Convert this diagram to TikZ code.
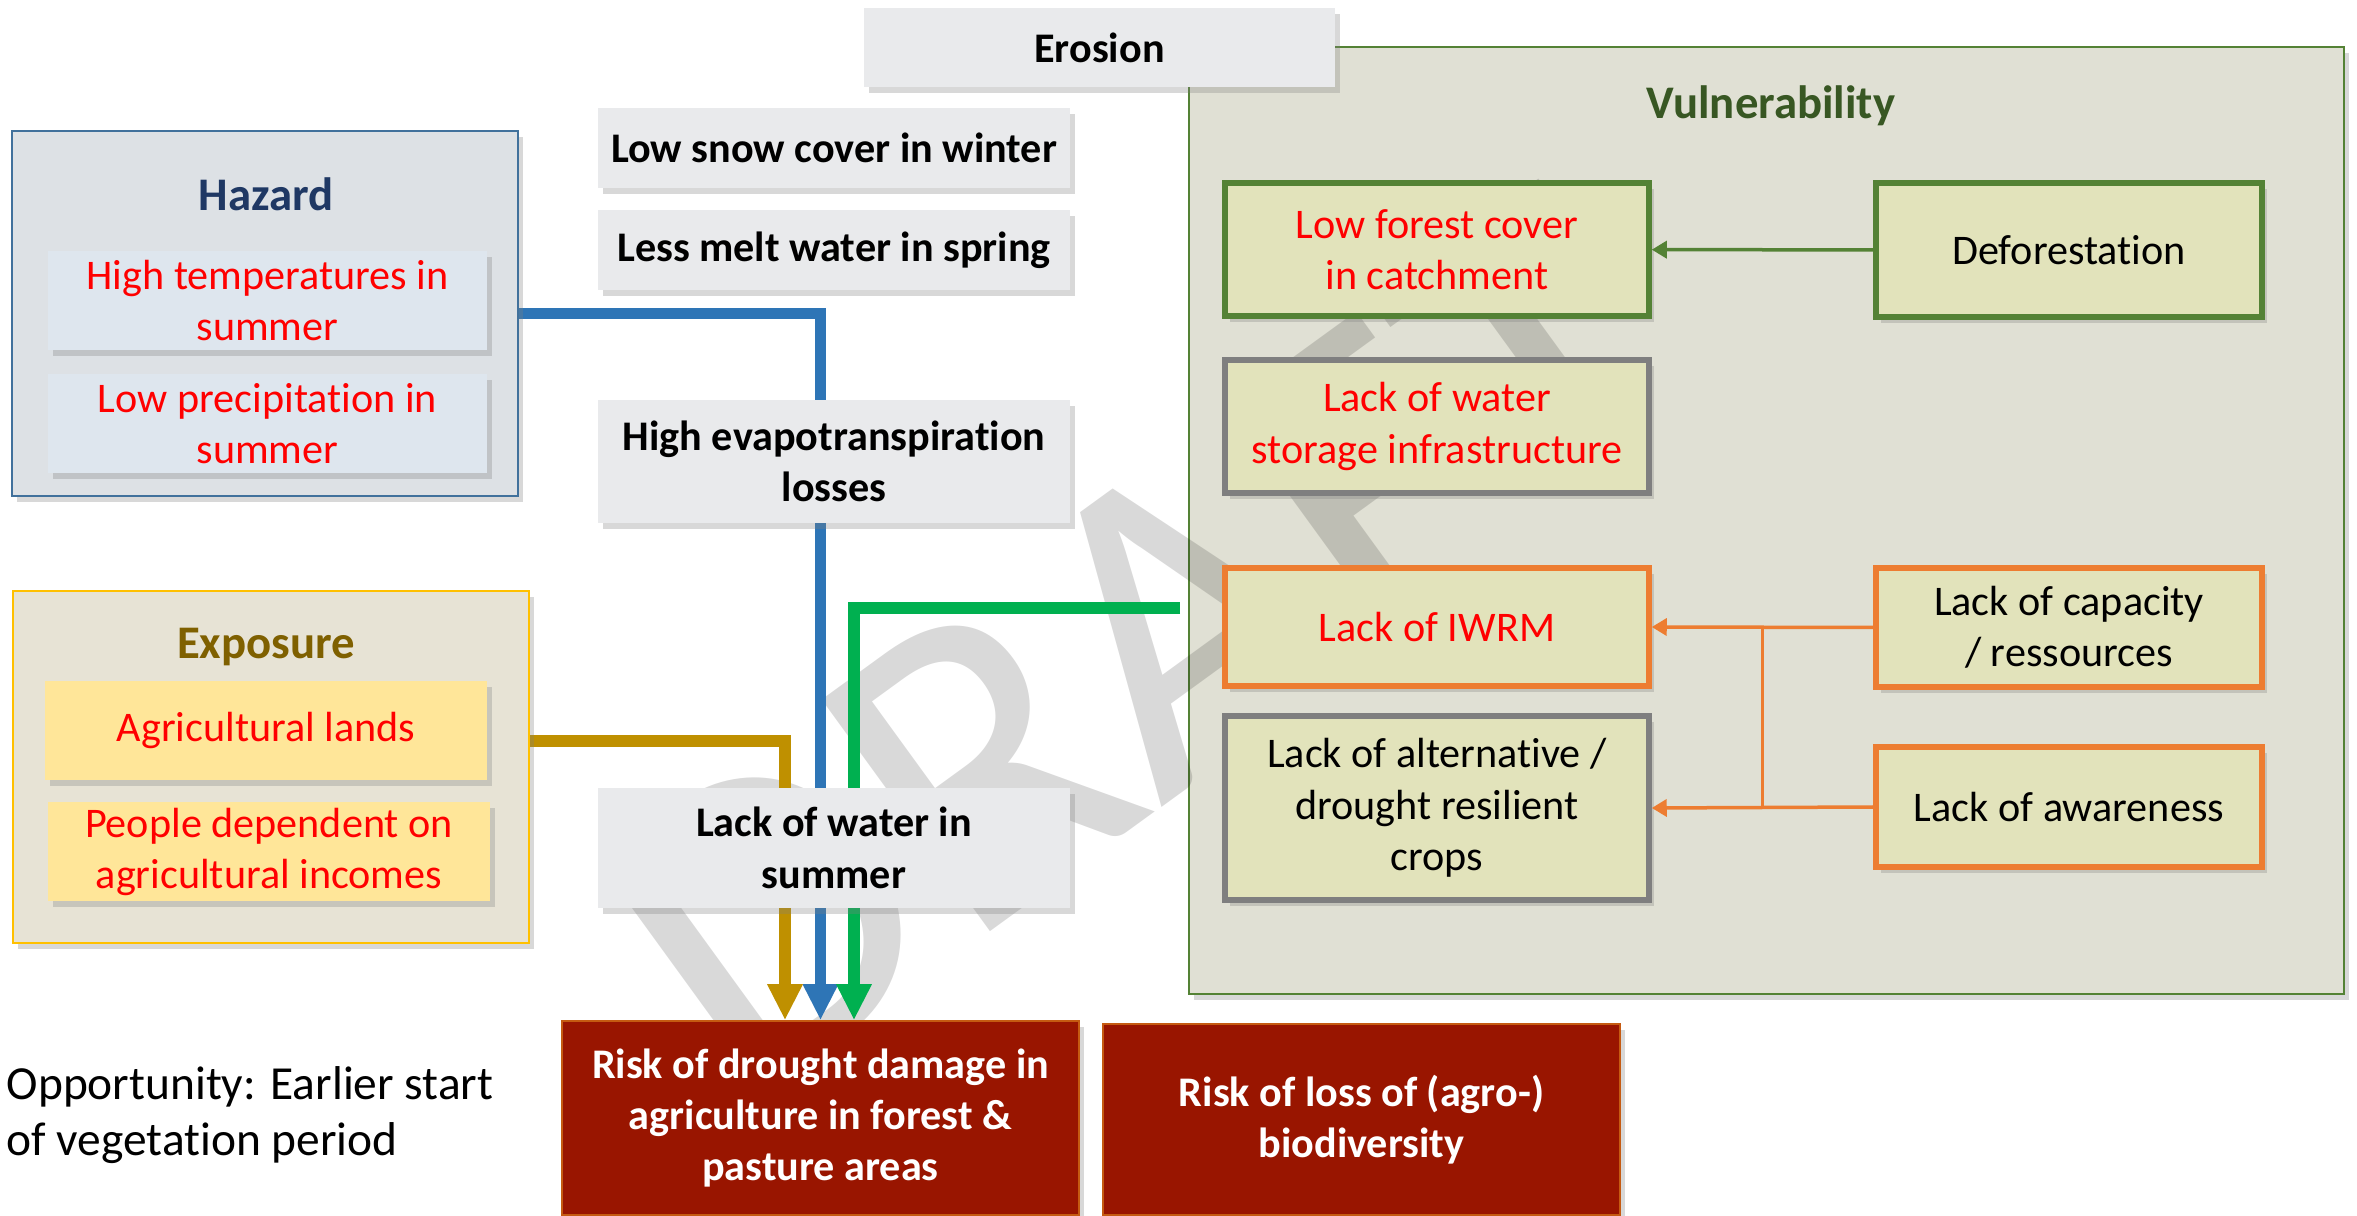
\documentclass[tikz,border=0pt]{standalone}
\usepackage{fontspec}
\setmainfont{Carlito}[Ligatures=NoCommon]
\usepackage{tikz}
\usetikzlibrary{arrows.meta, shadows, positioning, calc}
\definecolor{boxgray}{RGB}{233,234,236}
\definecolor{hazardfill}{RGB}{221,225,229}
\definecolor{hazarditemfill}{RGB}{222,230,238}
\definecolor{hazardedge}{RGB}{65,113,156}
\definecolor{hazardink}{RGB}{31,56,100}
\definecolor{exposurefill}{RGB}{231,227,213}
\definecolor{exposureitemfill}{RGB}{255,230,153}
\definecolor{exposureedge}{RGB}{255,192,0}
\definecolor{exposureink}{RGB}{127,96,0}
\definecolor{vulnfill}{RGB}{224,224,212}
\definecolor{vulnitemfill}{RGB}{226,227,187}
\definecolor{vulnink}{RGB}{56,87,35}
\definecolor{greenedge}{RGB}{84,130,53}
\definecolor{grayedge}{RGB}{127,127,127}
\definecolor{orangeedge}{RGB}{237,125,49}
\definecolor{riskfill}{RGB}{153,21,0}
\definecolor{riskedge}{RGB}{197,90,17}
\definecolor{flowblue}{RGB}{46,117,182}
\definecolor{flowgold}{RGB}{191,144,0}
\definecolor{flowgreen}{RGB}{0,176,80}
\pgfdeclarelayer{back}
\pgfdeclarelayer{mid}
\pgfsetlayers{back,mid,main}

\begin{document}
\begin{tikzpicture}[font=\fontsize{12}{14.6}\selectfont, >=Stealth,
  boxshadow/.style={drop shadow={shadow xshift=0.05cm, shadow yshift=-0.06cm, opacity=0.3}},
  titlefont/.style={font=\bfseries\fontsize{13.3}{16}\selectfont},
  graybox/.style={fill=boxgray, boxshadow, minimum width=4.72cm, minimum height=0.8cm,
    inner sep=0pt, align=center, font=\bfseries\fontsize{12}{14.6}\selectfont},
  hazardbox/.style={draw=hazardedge, line width=0.02cm, fill=hazardfill, boxshadow,
    minimum width=5.06cm, minimum height=3.65cm},
  hazarditem/.style={fill=hazarditemfill, boxshadow, text=red, align=center,
    minimum width=4.39cm, minimum height=0.99cm, inner sep=0pt},
  exposurebox/.style={draw=exposureedge, line width=0.02cm, fill=exposurefill, boxshadow,
    minimum width=5.16cm, minimum height=3.52cm},
  exposureitem/.style={fill=exposureitemfill, boxshadow, text=red, align=center,
    minimum width=4.42cm, minimum height=0.99cm, inner sep=0pt},
  vulnbox/.style={draw=greenedge, line width=0.015cm, fill=vulnfill, boxshadow,
    minimum width=11.55cm, minimum height=9.47cm},
  factorbox/.style={fill=vulnitemfill, line width=0.055cm, boxshadow, align=center,
    minimum width=4.24cm, minimum height=1.33cm, inner sep=0pt},
  driverbox/.style={fill=vulnitemfill, line width=0.055cm, boxshadow, align=center,
    minimum width=3.86cm, minimum height=1.34cm, inner sep=0pt},
  riskbox/.style={draw=riskedge, line width=0.015cm, fill=riskfill, boxshadow, text=white,
    align=center, minimum width=5.17cm, minimum height=1.94cm, inner sep=0pt,
    font=\bfseries\fontsize{12}{14.6}\selectfont},
  flow/.style={line width=0.115cm, -{Triangle[width=0.33cm,length=0.36cm]}},
  link/.style={line width=0.035cm, -{Triangle[width=0.17cm,length=0.15cm]}},
  draftmark/.style={rotate=36, text=black, text opacity=0.15,
    font=\fontsize{127}{127}\selectfont}]

  % page and watermark
  \begin{pgfonlayer}{back}
    \path[use as bounding box, fill=white] (0,0) rectangle (23.57,-12.15);
    \node[vulnbox] (vulnerability) at (17.665,-5.205) {};
    \node[draftmark] (draft) at (11.43,-6.44) {DRAFT};
  \end{pgfonlayer}

  % Hazard
  \node[hazardbox] (hazard) at (2.65,-3.135) {};
  \node[titlefont, text=hazardink] (hazardhead) at (2.66,-1.94) {Hazard};
  \node[hazarditem] (hightemp) at (2.675,-3.005) {High temperatures in\\summer};
  \node[hazarditem] (lowprec) at (2.675,-4.235) {Low precipitation in\\summer};

  % Exposure
  \node[exposurebox] (exposure) at (2.71,-7.67) {};
  \node[titlefont, text=exposureink] (exposurehead) at (2.66,-6.47) {Exposure};
  \node[exposureitem] (agrilands) at (2.66,-7.305) {Agricultural lands};
  \node[exposureitem] (agripeople) at (2.69,-8.52) {People dependent on\\agricultural incomes};

  % impact chain
  \node[graybox, minimum width=4.71cm, minimum height=0.79cm] (erosion) at (10.995,-0.475) {Erosion};
  \node[graybox] (snow) at (8.34,-1.48) {Low snow cover in winter};
  \node[graybox] (melt) at (8.34,-2.50) {Less melt water in spring};
  \node[graybox, minimum height=1.23cm] (evapo) at (8.34,-4.615) {High evapotranspiration\\losses};
  \node[graybox, minimum height=1.20cm] (lackwater) at (8.34,-8.48) {Lack of water in\\summer};

  % risks
  \node[riskbox] (riskdrought) at (8.205,-11.18) {Risk of drought damage in\\agriculture in forest \&\\pasture areas};
  \node[riskbox, minimum height=1.91cm] (riskbio) at (13.615,-11.195) {Risk of loss of (agro-)\\biodiversity};

  \node[anchor=west, align=left, inner sep=0pt, font=\fontsize{13.5}{15.9}\selectfont]
    (opportunity) at (0.06,-11.15) {Opportunity: Earlier start\\of vegetation period};

  % Vulnerability
  \node[titlefont, text=vulnink] (vulnhead) at (17.71,-1.06) {Vulnerability};
  \node[factorbox, draw=greenedge, text=red] (forest) at (14.37,-2.495) {Low forest cover\\in catchment};
  \node[driverbox, draw=greenedge] (defor) at (20.69,-2.50) {Deforestation};
  \node[factorbox, draw=grayedge, text=red] (storage) at (14.37,-4.265) {Lack of water\\storage infrastructure};
  \node[factorbox, draw=orangeedge, text=red, minimum height=1.18cm] (iwrm) at (14.37,-6.27) {Lack of IWRM};
  \node[driverbox, draw=orangeedge, minimum height=1.19cm] (capacity) at (20.69,-6.275) {Lack of capacity\\/ ressources};
  \node[factorbox, draw=grayedge, minimum height=1.84cm] (altcrops) at (14.37,-8.08) {Lack of alternative /\\drought resilient\\crops};
  \node[driverbox, draw=orangeedge, minimum height=1.20cm] (awareness) at (20.69,-8.07) {Lack of awareness};

  % thick flows into the drought risk
  \begin{pgfonlayer}{mid}
    \coordinate (iwrmlink) at (11.80,-6.08);
    \draw[flow, flowblue] (hazard.east) -| (riskdrought.north);
    \draw[flow, flowgold] ([yshift=2.6mm]exposure.east) -| ([xshift=-3.55mm]riskdrought.north);
    \draw[flow, flowgreen] (iwrmlink) -| ([xshift=3.35mm]riskdrought.north);
  \end{pgfonlayer}

  % drivers
  \coordinate (jointop) at ($(iwrm.east)!0.5!(capacity.west)$);
  \coordinate (jointbot) at ($(altcrops.east)!0.5!(awareness.west)$);
  \draw[link, greenedge] (defor) -- (forest);
  \draw[link, orangeedge] (capacity.west) -- (iwrm.east);
  \draw[link, orangeedge] (awareness.west) -- (altcrops.east);
  \draw[orangeedge, line width=0.035cm] (jointop) -- (jointbot);
\end{tikzpicture}
\end{document}
